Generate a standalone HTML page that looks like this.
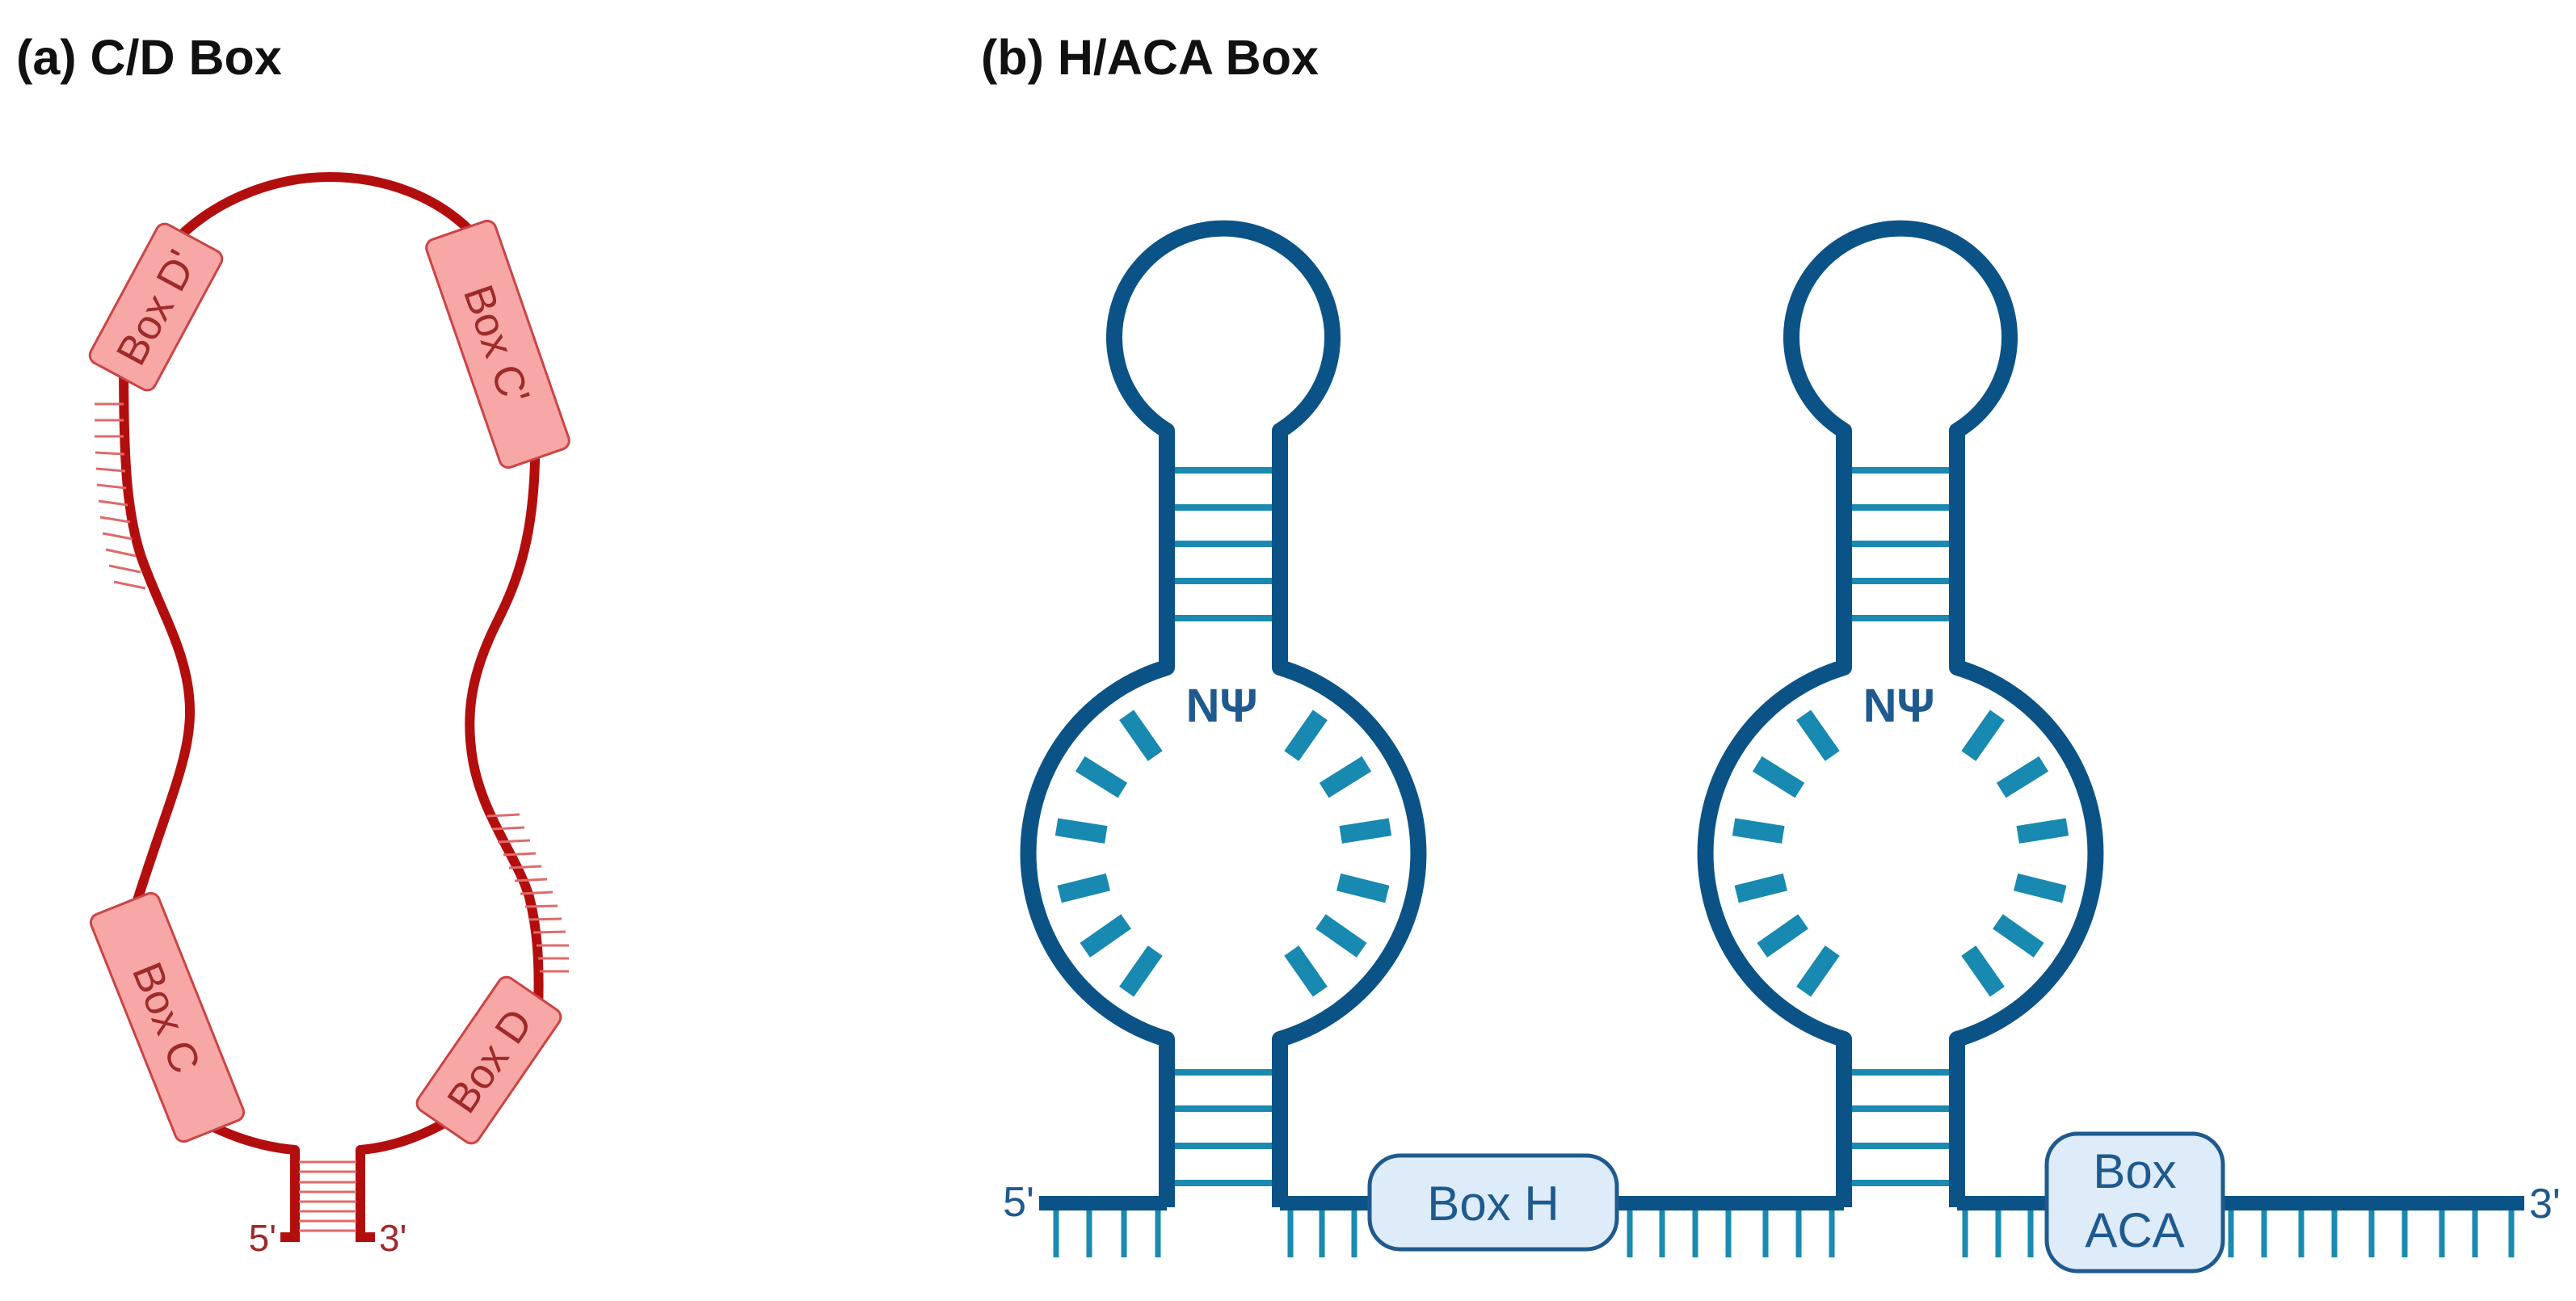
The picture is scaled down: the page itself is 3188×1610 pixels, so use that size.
<!DOCTYPE html>
<html><head><meta charset="utf-8"><style>
html,body{margin:0;padding:0;background:#fff;}
svg{display:block;}
text{font-family:"Liberation Sans",sans-serif;}
</style></head><body>
<svg width="3188" height="1610" viewBox="0 0 3188 1610" xmlns="http://www.w3.org/2000/svg">
<rect width="3188" height="1610" fill="#fff"/>
<text x="20" y="92" font-size="61" font-weight="bold" fill="#111">(a) C/D Box</text>
<text x="1214" y="92" font-size="61" font-weight="bold" fill="#111">(b) H/ACA Box</text>

<!-- Panel A -->
<g fill="none" stroke="#b30e0e" stroke-width="12" stroke-linecap="round">
  <path d="M365,1423 Q305,1418 245,1385"/>
  <path d="M446,1423 Q507,1418 570,1378"/>
  <path d="M165,1130 C205,1000 236,940 235,878 C234,810 200,760 175,690 C155,630 153,560 153,430"/>
  <path d="M210,305 C270,240 350,219 408,219 C470,219 545,240 595,300"/>
  <path d="M662,530 C665,660 640,720 615,770 C585,830 575,880 585,940 C597,1010 640,1060 655,1110 C665,1150 668,1190 666,1250"/>
  <path d="M347,1531 L365,1531 L365,1423" stroke-linecap="butt"/>
  <path d="M464,1531 L446,1531 L446,1423" stroke-linecap="butt"/>
</g>
<g stroke="#e06a6a" stroke-width="3">
  <line x1="370" y1="1438" x2="441" y2="1438"/>
  <line x1="370" y1="1450" x2="441" y2="1450"/>
  <line x1="370" y1="1463" x2="441" y2="1463"/>
  <line x1="370" y1="1475" x2="441" y2="1475"/>
  <line x1="370" y1="1487" x2="441" y2="1487"/>
  <line x1="370" y1="1499" x2="441" y2="1499"/>
  <line x1="370" y1="1511" x2="441" y2="1511"/>
  <line x1="370" y1="1523" x2="441" y2="1523"/>
  <line x1="117" y1="500" x2="153" y2="500"/>
  <line x1="117" y1="520" x2="153" y2="520"/>
  <line x1="117" y1="540" x2="153" y2="540"/>
  <line x1="118" y1="560" x2="154" y2="562"/>
  <line x1="119" y1="580" x2="155" y2="583"/>
  <line x1="120" y1="600" x2="156" y2="604"/>
  <line x1="122" y1="620" x2="158" y2="625"/>
  <line x1="124" y1="640" x2="161" y2="646"/>
  <line x1="127" y1="660" x2="164" y2="667"/>
  <line x1="131" y1="680" x2="168" y2="688"/>
  <line x1="135" y1="700" x2="174" y2="708"/>
  <line x1="141" y1="720" x2="180" y2="728"/>
  <line x1="603" y1="1010" x2="643" y2="1008"/>
  <line x1="609" y1="1026" x2="649" y2="1024"/>
  <line x1="616" y1="1042" x2="656" y2="1040"/>
  <line x1="623" y1="1058" x2="663" y2="1056"/>
  <line x1="630" y1="1074" x2="670" y2="1072"/>
  <line x1="637" y1="1090" x2="677" y2="1088"/>
  <line x1="644" y1="1106" x2="684" y2="1104"/>
  <line x1="650" y1="1122" x2="690" y2="1121"/>
  <line x1="655" y1="1138" x2="695" y2="1137"/>
  <line x1="660" y1="1154" x2="700" y2="1153"/>
  <line x1="664" y1="1170" x2="704" y2="1170"/>
  <line x1="666" y1="1186" x2="704" y2="1186"/>
  <line x1="668" y1="1202" x2="704" y2="1202"/>
</g>
<g font-size="52" fill="#9e2a2a" text-anchor="middle" dominant-baseline="central">
  <g transform="translate(193,380) rotate(-61.7)"><rect x="-97" y="-45" width="194" height="90" rx="11" fill="#f8a7a7" stroke="#cc4444" stroke-width="3"/><text x="0" y="2">Box D'</text></g>
  <g transform="translate(616,426) rotate(70.9)"><rect x="-149" y="-45" width="298" height="90" rx="11" fill="#f8a7a7" stroke="#cc4444" stroke-width="3"/><text x="0" y="2">Box C'</text></g>
  <g transform="translate(207,1259) rotate(68.2)"><rect x="-151" y="-45" width="302" height="90" rx="11" fill="#f8a7a7" stroke="#cc4444" stroke-width="3"/><text x="0" y="2">Box C</text></g>
  <g transform="translate(605,1312) rotate(-55.5)"><rect x="-99" y="-45" width="198" height="90" rx="11" fill="#f8a7a7" stroke="#cc4444" stroke-width="3"/><text x="0" y="2">Box D</text></g>
</g>
<text x="342" y="1548" font-size="46" fill="#9e2a2a" text-anchor="end">5'</text>
<text x="469" y="1548" font-size="46" fill="#9e2a2a">3'</text>

<!-- Panel B -->
<defs>
  <g id="hp">
    <g stroke="#1a8ab0" stroke-width="8">
      <line x1="-62" y1="582" x2="62" y2="582"/>
      <line x1="-62" y1="628" x2="62" y2="628"/>
      <line x1="-62" y1="673" x2="62" y2="673"/>
      <line x1="-62" y1="719" x2="62" y2="719"/>
      <line x1="-62" y1="765" x2="62" y2="765"/>
      <line x1="-62" y1="1327" x2="62" y2="1327"/>
      <line x1="-62" y1="1372" x2="62" y2="1372"/>
      <line x1="-62" y1="1418" x2="62" y2="1418"/>
      <line x1="-62" y1="1464" x2="62" y2="1464"/>
    </g>
    <path d="M-70,1494 L-70,1286 A240,240 0 0 1 -70,826 L-70,533 A135,135 0 1 1 70,533 L70,826 A240,240 0 0 1 70,1286 L70,1494" fill="none" stroke="#0b5386" stroke-width="20" stroke-linejoin="round"/>
    <g transform="translate(0,1056)" stroke="#1889b0" stroke-width="22">
      <line x1="147" y1="0" x2="209" y2="0" transform="rotate(-125)"/>
      <line x1="147" y1="0" x2="209" y2="0" transform="rotate(-148)"/>
      <line x1="147" y1="0" x2="209" y2="0" transform="rotate(-171)"/>
      <line x1="147" y1="0" x2="209" y2="0" transform="rotate(166)"/>
      <line x1="147" y1="0" x2="209" y2="0" transform="rotate(145)"/>
      <line x1="147" y1="0" x2="209" y2="0" transform="rotate(125)"/>
      <line x1="147" y1="0" x2="209" y2="0" transform="rotate(-55)"/>
      <line x1="147" y1="0" x2="209" y2="0" transform="rotate(-32)"/>
      <line x1="147" y1="0" x2="209" y2="0" transform="rotate(-9)"/>
      <line x1="147" y1="0" x2="209" y2="0" transform="rotate(14)"/>
      <line x1="147" y1="0" x2="209" y2="0" transform="rotate(35)"/>
      <line x1="147" y1="0" x2="209" y2="0" transform="rotate(55)"/>
    </g>
    <text x="-2" y="893" font-size="58" font-weight="bold" fill="#1f5a8f" text-anchor="middle">NΨ</text>
  </g>
</defs>
<use href="#hp" transform="translate(1514,0)"/>
<use href="#hp" transform="translate(2352,0)"/>

<g stroke="#0b5386" stroke-width="18">
  <line x1="1286" y1="1489" x2="1444" y2="1489"/>
  <line x1="1584" y1="1489" x2="1700" y2="1489"/>
  <line x1="1995" y1="1489" x2="2282" y2="1489"/>
  <line x1="2422" y1="1489" x2="2540" y2="1489"/>
  <line x1="2745" y1="1489" x2="3124" y2="1489"/>
</g>
<g stroke="#1a8ab0" stroke-width="7">
  <line x1="1307" y1="1498" x2="1307" y2="1556"/>
  <line x1="1348" y1="1498" x2="1348" y2="1556"/>
  <line x1="1391" y1="1498" x2="1391" y2="1556"/>
  <line x1="1433" y1="1498" x2="1433" y2="1556"/>
  <line x1="1597" y1="1498" x2="1597" y2="1556"/>
  <line x1="1636" y1="1498" x2="1636" y2="1556"/>
  <line x1="1676" y1="1498" x2="1676" y2="1556"/>
  <line x1="2017" y1="1498" x2="2017" y2="1556"/>
  <line x1="2057" y1="1498" x2="2057" y2="1556"/>
  <line x1="2098" y1="1498" x2="2098" y2="1556"/>
  <line x1="2139" y1="1498" x2="2139" y2="1556"/>
  <line x1="2185" y1="1498" x2="2185" y2="1556"/>
  <line x1="2226" y1="1498" x2="2226" y2="1556"/>
  <line x1="2267" y1="1498" x2="2267" y2="1556"/>
  <line x1="2432" y1="1498" x2="2432" y2="1556"/>
  <line x1="2473" y1="1498" x2="2473" y2="1556"/>
  <line x1="2513" y1="1498" x2="2513" y2="1556"/>
  <line x1="2761" y1="1498" x2="2761" y2="1556"/>
  <line x1="2802" y1="1498" x2="2802" y2="1556"/>
  <line x1="2848" y1="1498" x2="2848" y2="1556"/>
  <line x1="2889" y1="1498" x2="2889" y2="1556"/>
  <line x1="2935" y1="1498" x2="2935" y2="1556"/>
  <line x1="2976" y1="1498" x2="2976" y2="1556"/>
  <line x1="3022" y1="1498" x2="3022" y2="1556"/>
  <line x1="3063" y1="1498" x2="3063" y2="1556"/>
  <line x1="3108" y1="1498" x2="3108" y2="1556"/>
</g>
<rect x="1695" y="1430" width="306" height="116" rx="38" fill="#deebf8" stroke="#1f5a8f" stroke-width="5"/>
<text x="1848" y="1510" font-size="60" fill="#1f5a8f" text-anchor="middle">Box H</text>
<rect x="2533" y="1403" width="218" height="170" rx="38" fill="#deebf8" stroke="#1f5a8f" stroke-width="5"/>
<text x="2642" y="1470" font-size="60" fill="#1f5a8f" text-anchor="middle">Box</text>
<text x="2642" y="1543" font-size="60" fill="#1f5a8f" text-anchor="middle">ACA</text>
<text x="1280" y="1505" font-size="52" fill="#1f5a8f" text-anchor="end">5'</text>
<text x="3130" y="1507" font-size="52" fill="#1f5a8f">3'</text>
</svg>
</body></html>
